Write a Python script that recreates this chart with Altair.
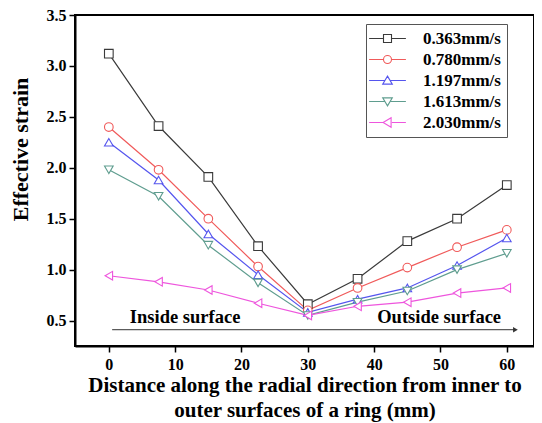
import altair as alt
import pandas as pd

# ---- data ----
distance = [0, 7.5, 15, 22.5, 30, 37.5, 45, 52.5, 60]
series_names = ["0.363mm/s", "0.780mm/s", "1.197mm/s", "1.613mm/s", "2.030mm/s"]
v_0363 = [3.12, 2.41, 1.91, 1.23, 0.66, 0.91, 1.28, 1.50, 1.83]
v_0780 = [2.40, 1.98, 1.50, 1.03, 0.60, 0.82, 1.02, 1.22, 1.39]
v_1197 = [2.25, 1.88, 1.35, 0.95, 0.58, 0.71, 0.82, 1.04, 1.31]
v_1613 = [1.98, 1.72, 1.24, 0.87, 0.55, 0.68, 0.79, 1.00, 1.16]
v_2030 = [0.94, 0.88, 0.80, 0.67, 0.55, 0.64, 0.68, 0.77, 0.82]
all_values = [v_0363, v_0780, v_1197, v_1613, v_2030]

colors = ["#3a3a3a", "#f05a5a", "#5555ee", "#5f9d8f", "#ee55dd"]
shapes = ["square", "circle", "triangle-up", "triangle-down", "triangle-left"]

# annotation texts
ann_text = ["Inside surface", "Outside surface"]
ann_x = [11.5, 49.8]
ann_y = [0.53, 0.53]
arrow_x = [0.5, 61.3]
arrow_y = [0.41, 0.41]

rows = []
for name, vals in zip(series_names, all_values):
    for d, v in zip(distance, vals):
        rows.append({"series": name, "distance": d, "strain": v})
df = pd.DataFrame(rows)

FONT = "Liberation Serif"

x_enc = alt.X(
    "distance:Q",
    scale=alt.Scale(domain=[-5.1, 64.1], nice=False, zero=False),
    axis=alt.Axis(
        values=[0, 5, 10, 15, 20, 25, 30, 35, 40, 45, 50, 55, 60],
        labelExpr="datum.value % 10 === 0 ? datum.label : ''",
        tickSize={"condition": {"test": "datum.value % 10 === 0", "value": 6}, "value": 3},
        title=["Distance along the radial direction from inner to",
               "outer surfaces of a ring (mm)"],
        grid=False,
    ),
)
y_enc = alt.Y(
    "strain:Q",
    scale=alt.Scale(domain=[0.25, 3.5], nice=False, zero=False),
    axis=alt.Axis(
        values=[0.5, 0.75, 1.0, 1.25, 1.5, 1.75, 2.0, 2.25, 2.5, 2.75, 3.0, 3.25, 3.5],
        format=".1f",
        labelExpr="abs(datum.value*2 - round(datum.value*2)) < 0.01 ? datum.label : ''",
        tickSize={"condition": {"test": "abs(datum.value*2 - round(datum.value*2)) < 0.01", "value": 6}, "value": 3},
        title="Effective strain",
        titleY=134,
        titleFontSize=22,
        grid=False,
    ),
)

color_plain = alt.Color("series:N", scale=alt.Scale(domain=series_names, range=colors), legend=None)

lines = alt.Chart(df).mark_line(strokeWidth=1.2).encode(
    x=x_enc, y=y_enc, color=color_plain, detail="series:N"
)

points = alt.Chart(df).mark_point(filled=False, fill="white", fillOpacity=1, size=75, strokeWidth=1.1, opacity=1).encode(
    x="distance:Q", y="strain:Q",
    color=color_plain,
    shape=alt.Shape("series:N", scale=alt.Scale(domain=series_names, range=shapes), legend=None),
)

# legend symbols: line segments + marker (unit = sqrt(size)/2 px)
leg_paths = [
    "M-4.6,0H-1M1,0H4.6M-1,-1H1V1H-1Z",
    "M-4.6,0H-1M1,0H4.6M-1,0A1,1 0 1,0 1,0A1,1 0 1,0 -1,0Z",
    "M-4.6,0H-0.6M0.6,0H4.6M0,-1.1L1.2,0.9H-1.2Z",
    "M-4.6,0H-0.6M0.6,0H4.6M0,1.1L1.2,-0.9H-1.2Z",
    "M-4.6,0H-1M1.1,0H4.6M-1.1,0L0.9,-1.2V1.2Z",
]

legend_props = dict(orient="none", legendX=291, legendY=9, title=None,
                    labelFont=FONT, labelFontWeight="bold", labelFontSize=17,
                    labelColor="black", symbolSize=64, symbolStrokeWidth=1.1,
                    symbolOffset=7, labelOffset=27, rowPadding=3,
                    padding=6, strokeColor="#555555", fillColor="white",
                    symbolOpacity=1)

legend_layer = alt.Chart(df).transform_filter("false").mark_point(filled=False, strokeWidth=1.1, opacity=1).encode(
    x="distance:Q", y="strain:Q",
    color=alt.Color("series:N", scale=alt.Scale(domain=series_names, range=colors), title=None,
                    legend=alt.Legend(**legend_props)),
    shape=alt.Shape("series:N", scale=alt.Scale(domain=series_names, range=leg_paths), title=None,
                    legend=alt.Legend(**legend_props)),
)

ann_df = pd.DataFrame({"text": ann_text, "x": ann_x, "y": ann_y})
ann = alt.Chart(ann_df).mark_text(font=FONT, fontWeight="bold", fontSize=18.5, color="black").encode(
    x="x:Q", y="y:Q", text="text:N"
)

arrow_df = pd.DataFrame({"x": [arrow_x[0]], "x2": [arrow_x[1]], "y": [arrow_y[0]]})
arrow_line = alt.Chart(arrow_df).mark_rule(color="#333333", strokeWidth=1).encode(
    x="x:Q", x2="x2:Q", y="y:Q"
)
head_df = pd.DataFrame({"x": [arrow_x[1]], "y": [arrow_y[1]]})
arrow_head = alt.Chart(head_df).mark_point(shape="triangle-right", filled=True, size=30, color="#333333", opacity=1).encode(
    x="x:Q", y="y:Q"
)

chart = alt.layer(lines, points, ann, arrow_line, arrow_head, legend_layer).resolve_scale(
    color="independent", shape="independent"
).properties(
    width=459, height=331,
    padding={"left": 67, "top": 7, "right": 0, "bottom": 77},
    autosize="none",
    background="white",
).configure_view(
    stroke="black", strokeWidth=2
).configure_axis(
    domainColor="black", domainWidth=2, tickColor="black", tickWidth=1.5,
    labelFont=FONT, labelFontWeight="bold", labelFontSize=16, labelColor="black",
    titleFont=FONT, titleFontWeight="bold", titleFontSize=21, titleColor="black",
).configure_axisX(
    labelPadding=4, titlePadding=2, titleLineHeight=25
).configure_axisY(
    labelPadding=3, titlePadding=14
)

chart.save("out.html", embed_options={"renderer": "svg", "actions": False})
